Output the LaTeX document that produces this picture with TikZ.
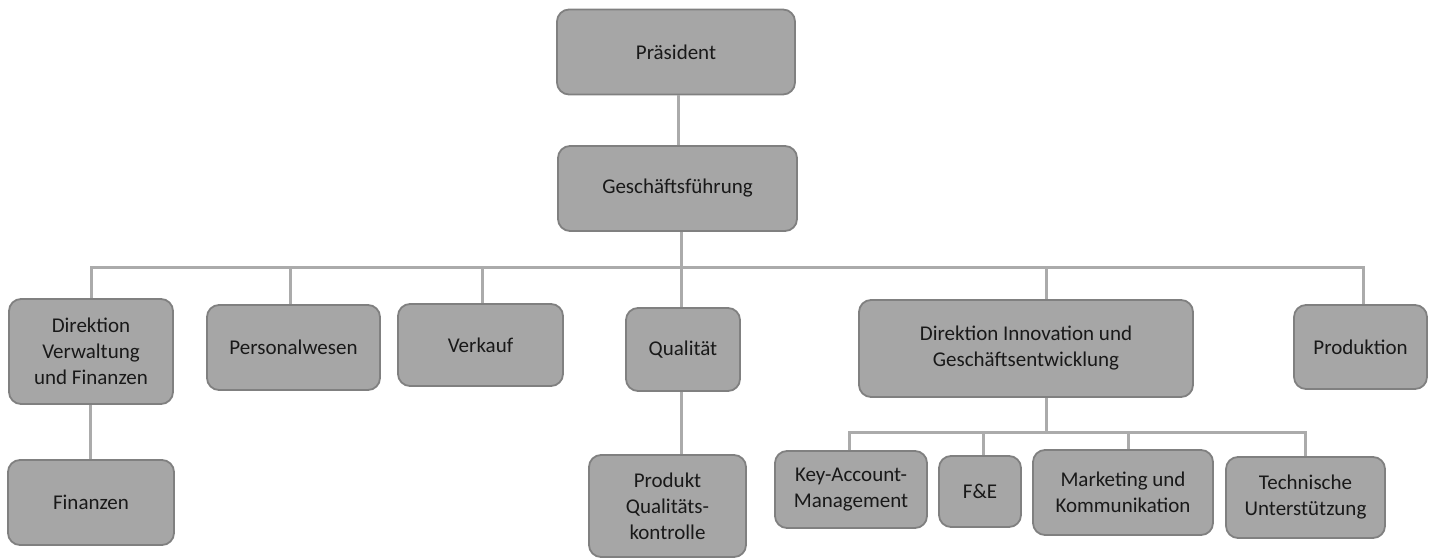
\documentclass[tikz,border=0pt]{standalone}
\usepackage{fontspec}
\setmainfont{Carlito}
\begin{document}
\begin{tikzpicture}[x=1pt,y=-1pt,
  box/.style={draw=boxline,fill=boxfill,line width=1.8pt,rounded corners=12pt,
    inner sep=0pt,align=center,font=\fontsize{21}{26}\selectfont,text=black!90},
  conn/.style={draw=connline,line width=3pt}]
\definecolor{boxfill}{HTML}{A6A6A6}
\definecolor{boxline}{HTML}{808080}
\definecolor{connline}{HTML}{ABABAB}
\useasboundingbox (0,0) rectangle (1434,559);
% nodes
\node[box,minimum width=238pt,minimum height=85pt] (pres) at (676,52) {Präsident};
\node[box,minimum width=239pt,minimum height=85pt] (gf) at (677.5,188.5) {Geschäftsführung};
\node[box,minimum width=164pt,minimum height=105pt] (dv) at (91,351.5) {Direktion\\Verwaltung\\und Finanzen};
\node[box,minimum width=166pt,minimum height=85pt] (fin) at (91,502.5) {Finanzen};
\node[box,minimum width=173pt,minimum height=85pt] (pw) at (293.5,347.5) {Personalwesen};
\node[box,minimum width=165pt,minimum height=82pt] (vk) at (480.5,345) {Verkauf};
\node[box,minimum width=114pt,minimum height=83pt] (qu) at (683,349.5) {Qualität};
\node[box,minimum width=157pt,minimum height=102pt] (pqk) at (667.5,506) {Produkt\\Qualitäts-\\kontrolle};
\node[box,minimum width=334pt,minimum height=97pt] (di) at (1026,348.5) {Direktion Innovation und\\Geschäftsentwicklung};
\node[box,minimum width=133pt,minimum height=84pt] (prod) at (1360.5,347) {Produktion};
\node[box,minimum width=152pt,minimum height=77pt] (kam) at (851,489.5) {Key-Account-\\Management};
\node[box,minimum width=82pt,minimum height=71pt] (fe) at (980,491.5) {F\&E};
\node[box,minimum width=180pt,minimum height=85pt] (mk) at (1123,492.5) {Marketing und\\Kommunikation};
\node[box,minimum width=159pt,minimum height=81pt] (ts) at (1305.5,497.5) {Technische\\Unterstützung};
% bus coordinates
\coordinate (bus) at (0,267);
\coordinate (sub) at (0,432);
\coordinate (prodtop) at ([xshift=2.5pt]prod.north);
\coordinate (tstop) at ([xshift=-0.5pt]ts.north);
% connectors
\draw[conn] ([xshift=2pt]pres.south) -- ([xshift=0.5pt]gf.north);
\draw[conn] ([xshift=3.5pt]gf.south) -- ([xshift=3.5pt]gf.south |- bus);
\draw[conn] (dv.north) |- (prodtop |- bus) -- (prodtop);
\draw[conn] ([xshift=-3.5pt]pw.north) -- ([xshift=-3.5pt]pw.north |- bus);
\draw[conn] ([xshift=1.5pt]vk.north) -- ([xshift=1.5pt]vk.north |- bus);
\draw[conn] ([xshift=-2pt]qu.north) -- ([xshift=-2pt]qu.north |- bus);
\draw[conn] ([xshift=20pt]di.north) -- ([xshift=20pt]di.north |- bus);
\draw[conn] ([xshift=-1pt]dv.south) -- ([xshift=-1pt]fin.north);
\draw[conn] ([xshift=-2pt]qu.south) -- ([xshift=13.5pt]pqk.north);
\draw[conn] ([xshift=20pt]di.south) -- ([xshift=20pt]di.south |- sub);
\draw[conn] ([xshift=-2pt]kam.north) |- (tstop |- sub) -- (tstop);
\draw[conn] ([xshift=3pt]fe.north) -- ([xshift=3pt]fe.north |- sub);
\draw[conn] ([xshift=5pt]mk.north) -- ([xshift=5pt]mk.north |- sub);
\end{tikzpicture}
\end{document}
